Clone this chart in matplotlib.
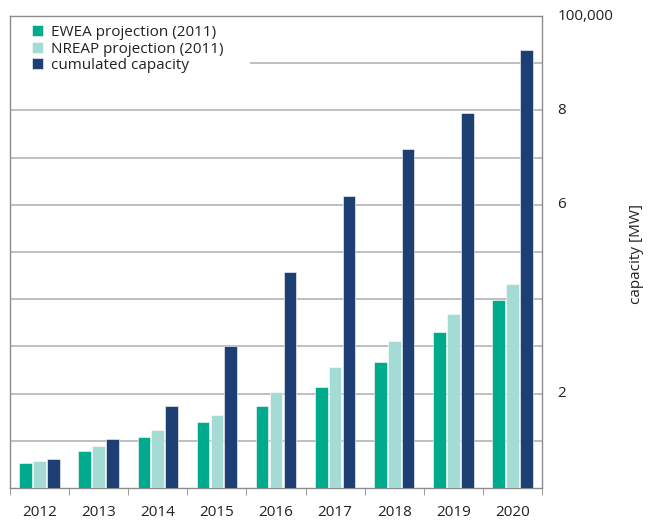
import matplotlib
matplotlib.use("Agg")
import matplotlib.pyplot as plt
from matplotlib.patches import Rectangle
import numpy as np

plt.rcParams['font.family'] = ['Open Sans', 'DejaVu Sans']

years = ['2012', '2013', '2014', '2015', '2016', '2017', '2018', '2019', '2020']
ewea = [0.52, 0.79, 1.08, 1.39, 1.73, 2.15, 2.66, 3.31, 3.99]
nreap = [0.58, 0.89, 1.22, 1.55, 2.03, 2.56, 3.11, 3.68, 4.32]
cumulated = [0.61, 1.04, 1.73, 3.01, 4.57, 6.19, 7.18, 7.94, 9.28]
ytick_vals = [2, 6, 8, 10]
ytick_labels = ['2', '6', '8', '100,000']

c_ewea = '#00aa8d'
c_nreap = '#a4dbd4'
c_cum = '#1e3f73'
grid_c = '#b4b4b4'
spine_c = '#8c8c8c'
txt_c = '#222222'
FS = 11

W, H = 648, 522
fig = plt.figure(figsize=(W/100, H/100), dpi=100)
ax = fig.add_axes([10/W, 1-488/H, (542-10)/W, (488-16)/H])

x = np.arange(len(years))
w = 0.215
step = 0.235
ax.bar(x - step, ewea, w, color=c_ewea, edgecolor='white', linewidth=0.4, label='EWEA projection (2011)', zorder=3)
ax.bar(x, nreap, w, color=c_nreap, edgecolor='white', linewidth=0.4, label='NREAP projection (2011)', zorder=3)
ax.bar(x + step, cumulated, w, color=c_cum, edgecolor='white', linewidth=0.4, label='cumulated capacity', zorder=3)

ax.set_xlim(-0.5, len(years) - 0.5)
ax.set_ylim(0, 10)

for v in range(1, 10):
    ax.axhline(v, color=grid_c, linewidth=1.2, zorder=1)

# white background behind legend (covers the gridline)
ax.add_patch(Rectangle((10/W, 1-78/H), 240/W, 62/H, transform=fig.transFigure,
                       facecolor='white', edgecolor='none', zorder=2))

for s in ax.spines.values():
    s.set_color(spine_c)
    s.set_linewidth(1.0)

ax.set_xticks(x)
ax.set_xticklabels(years, fontsize=FS, color=txt_c)
ax.set_xticks(np.arange(-0.5, len(years), 1), minor=True)
ax.tick_params(axis='x', which='major', length=0, pad=12)
ax.tick_params(axis='x', which='minor', length=5, color=spine_c, direction='out')

ax.yaxis.tick_right()
ax.set_yticks(ytick_vals)
ax.set_yticklabels(ytick_labels, fontsize=FS, color=txt_c)
ax.tick_params(axis='y', length=0, pad=11)
for lab in ax.get_yticklabels():
    lab.set_verticalalignment('center')

fig.text(636/W, 1-254/H, 'capacity [MW]', rotation=90, ha='center', va='center',
         fontsize=FS, color=txt_c)

leg = ax.legend(loc='upper left', bbox_to_anchor=(32/W, 1-25/H), bbox_transform=fig.transFigure,
                fontsize=FS, frameon=False,
                handlelength=0.72, handleheight=0.72, handletextpad=0.5,
                labelspacing=0.1, borderpad=0, borderaxespad=0)
leg.set_zorder(5)
for t in leg.get_texts():
    t.set_color(txt_c)

fig.savefig('out.png', dpi=100)
